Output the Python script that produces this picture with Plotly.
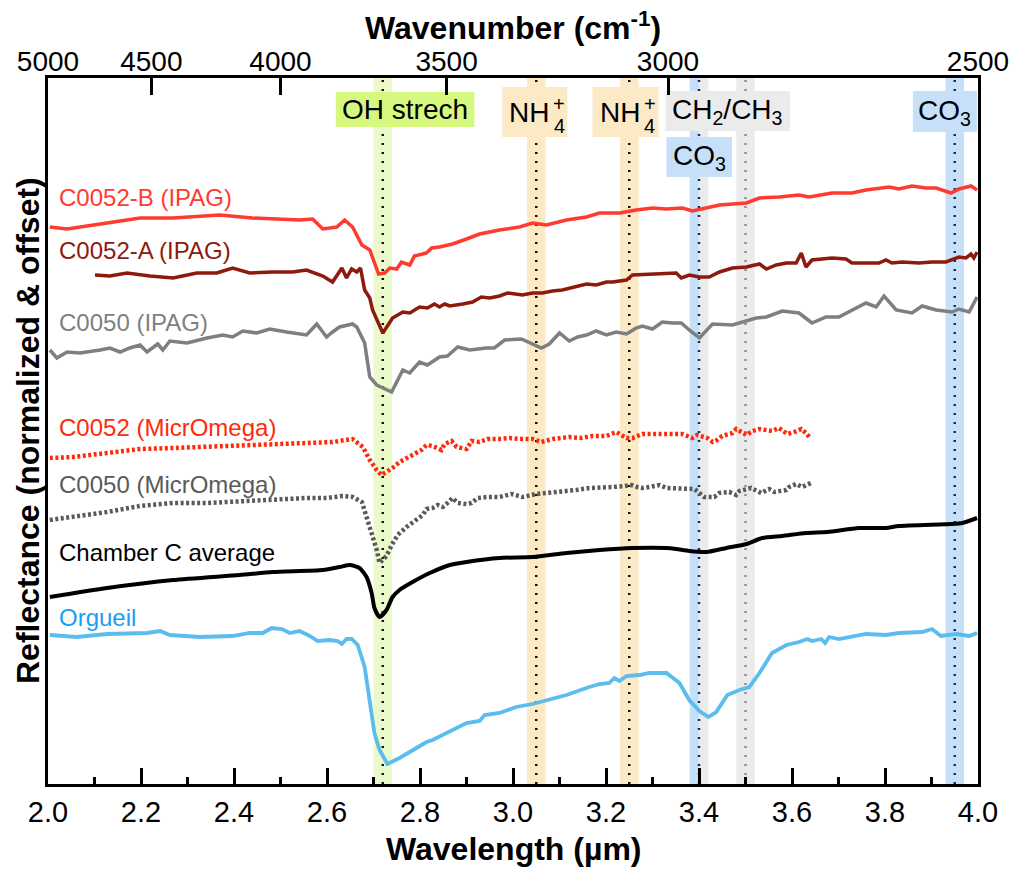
import plotly.graph_objects as go

# ---------------- spectra (wavelength in µm, reflectance normalized & offset) ----------------
wl_c52b = [2.004, 2.041, 2.127, 2.198, 2.269, 2.369, 2.440, 2.498, 2.541, 2.569, 2.591, 2.621, 2.638, 2.655,
           2.675, 2.692, 2.711, 2.724, 2.735, 2.750, 2.760, 2.778, 2.788, 2.814, 2.825, 2.842, 2.870, 2.900,
           2.928, 2.971, 3.014, 3.042, 3.072, 3.115, 3.158, 3.186, 3.229, 3.265, 3.300, 3.330, 3.364, 3.386,
           3.416, 3.444, 3.502, 3.530, 3.572, 3.615, 3.637, 3.686, 3.729, 3.759, 3.809, 3.830, 3.858, 3.888,
           3.910, 3.942, 3.959, 3.985, 3.998]
r_c52b = [5.57, 5.55, 5.61, 5.66, 5.66, 5.69, 5.66, 5.65, 5.64, 5.65, 5.55, 5.57, 5.64, 5.57,
          5.39, 5.34, 5.10, 5.11, 5.16, 5.15, 5.22, 5.19, 5.28, 5.31, 5.36, 5.37, 5.40, 5.45,
          5.50, 5.54, 5.57, 5.61, 5.59, 5.64, 5.67, 5.71, 5.71, 5.74, 5.76, 5.75, 5.76, 5.73,
          5.76, 5.79, 5.81, 5.86, 5.87, 5.89, 5.87, 5.91, 5.91, 5.94, 5.97, 5.95, 5.98, 5.96,
          5.96, 5.91, 5.95, 5.98, 5.94]

wl_c52a = [2.101, 2.133, 2.170, 2.219, 2.269, 2.320, 2.363, 2.397, 2.434, 2.483, 2.526, 2.556, 2.591, 2.612,
           2.632, 2.642, 2.653, 2.664, 2.672, 2.681, 2.692, 2.698, 2.720, 2.741, 2.763, 2.778, 2.799, 2.816,
           2.831, 2.842, 2.853, 2.864, 2.892, 2.913, 2.932, 2.950, 2.971, 2.988, 3.020, 3.042, 3.063, 3.085,
           3.106, 3.136, 3.158, 3.179, 3.201, 3.214, 3.244, 3.257, 3.293, 3.330, 3.351, 3.362, 3.379, 3.401,
           3.422, 3.444, 3.472, 3.502, 3.530, 3.545, 3.566, 3.588, 3.609, 3.620, 3.630, 3.643, 3.686, 3.716,
           3.729, 3.759, 3.787, 3.802, 3.815, 3.837, 3.873, 3.901, 3.931, 3.959, 3.974, 3.985, 3.991, 3.998]
r_c52a = [5.09, 5.08, 5.11, 5.08, 5.06, 5.11, 5.11, 5.16, 5.11, 5.12, 5.12, 5.14, 5.08, 5.02,
          5.16, 5.06, 5.15, 5.12, 5.16, 4.94, 4.86, 4.74, 4.51, 4.66, 4.72, 4.71, 4.77, 4.76,
          4.80, 4.77, 4.80, 4.78, 4.80, 4.82, 4.87, 4.86, 4.88, 4.91, 4.89, 4.91, 4.91, 4.93,
          4.94, 4.97, 5.00, 4.99, 5.02, 5.02, 5.04, 5.09, 5.10, 5.11, 5.11, 5.06, 5.09, 5.07,
          5.07, 5.12, 5.16, 5.17, 5.20, 5.15, 5.19, 5.21, 5.21, 5.31, 5.17, 5.24, 5.26, 5.25,
          5.21, 5.21, 5.21, 5.24, 5.21, 5.22, 5.21, 5.22, 5.22, 5.27, 5.26, 5.30, 5.26, 5.32]

wl_c50 = [2.004, 2.019, 2.041, 2.069, 2.112, 2.133, 2.155, 2.176, 2.198, 2.213, 2.236, 2.247, 2.262, 2.299,
          2.342, 2.376, 2.397, 2.419, 2.449, 2.477, 2.513, 2.556, 2.578, 2.599, 2.612, 2.627, 2.655, 2.664,
          2.681, 2.692, 2.707, 2.739, 2.763, 2.778, 2.799, 2.816, 2.842, 2.859, 2.881, 2.907, 2.943, 2.960,
          2.982, 3.018, 3.061, 3.078, 3.100, 3.121, 3.139, 3.158, 3.179, 3.201, 3.222, 3.244, 3.265, 3.278,
          3.300, 3.321, 3.343, 3.362, 3.379, 3.401, 3.429, 3.472, 3.523, 3.545, 3.579, 3.615, 3.643, 3.673,
          3.701, 3.729, 3.759, 3.781, 3.798, 3.824, 3.858, 3.880, 3.910, 3.944, 3.959, 3.981, 3.998]
r_c50 = [4.34, 4.26, 4.32, 4.31, 4.34, 4.36, 4.32, 4.36, 4.39, 4.32, 4.40, 4.34, 4.43, 4.41,
         4.46, 4.49, 4.47, 4.53, 4.51, 4.55, 4.52, 4.49, 4.60, 4.47, 4.52, 4.57, 4.60, 4.57,
         4.41, 4.07, 3.99, 3.92, 4.14, 4.11, 4.22, 4.19, 4.27, 4.28, 4.37, 4.34, 4.36, 4.36,
         4.44, 4.45, 4.36, 4.40, 4.51, 4.43, 4.47, 4.49, 4.53, 4.49, 4.52, 4.50, 4.56, 4.58,
         4.55, 4.62, 4.61, 4.61, 4.54, 4.46, 4.60, 4.59, 4.66, 4.67, 4.73, 4.71, 4.61, 4.67,
         4.67, 4.74, 4.81, 4.77, 4.88, 4.74, 4.71, 4.78, 4.74, 4.72, 4.75, 4.72, 4.87]

wl_c52_mo = [2.004, 2.054, 2.127, 2.198, 2.269, 2.342, 2.412, 2.483, 2.556, 2.612, 2.655, 2.677, 2.692, 2.707,
             2.717, 2.741, 2.756, 2.784, 2.803, 2.814, 2.827, 2.846, 2.853, 2.868, 2.879, 2.900, 2.911, 2.928,
             2.945, 2.971, 2.992, 3.020, 3.042, 3.061, 3.085, 3.121, 3.147, 3.171, 3.201, 3.222, 3.233, 3.244,
             3.257, 3.278, 3.308, 3.336, 3.364, 3.386, 3.396, 3.418, 3.429, 3.439, 3.450, 3.472, 3.480, 3.502,
             3.515, 3.530, 3.547, 3.557, 3.572, 3.590, 3.605, 3.620, 3.630, 3.639]
r_c52_mo = [3.26, 3.27, 3.31, 3.35, 3.36, 3.37, 3.39, 3.40, 3.41, 3.42, 3.45, 3.37, 3.24, 3.14,
            3.09, 3.16, 3.22, 3.29, 3.34, 3.39, 3.38, 3.34, 3.40, 3.43, 3.37, 3.35, 3.43, 3.42,
            3.45, 3.45, 3.46, 3.45, 3.45, 3.42, 3.45, 3.47, 3.46, 3.48, 3.48, 3.52, 3.49, 3.46,
            3.46, 3.50, 3.50, 3.50, 3.50, 3.46, 3.49, 3.46, 3.42, 3.44, 3.48, 3.51, 3.55, 3.49,
            3.53, 3.55, 3.54, 3.53, 3.56, 3.50, 3.52, 3.55, 3.51, 3.46]

wl_c50_mo = [2.004, 2.054, 2.127, 2.198, 2.269, 2.342, 2.412, 2.483, 2.556, 2.599, 2.634, 2.655, 2.675, 2.685,
             2.696, 2.707, 2.713, 2.728, 2.739, 2.752, 2.771, 2.793, 2.806, 2.814, 2.827, 2.838, 2.849, 2.859,
             2.870, 2.881, 2.900, 2.911, 2.924, 2.945, 2.971, 2.997, 3.020, 3.050, 3.078, 3.111, 3.136, 3.164,
             3.190, 3.214, 3.240, 3.255, 3.267, 3.278, 3.293, 3.315, 3.330, 3.351, 3.373, 3.390, 3.401, 3.411,
             3.433, 3.444, 3.465, 3.480, 3.487, 3.512, 3.534, 3.551, 3.562, 3.588, 3.594, 3.609, 3.622, 3.641]
r_c50_mo = [2.64, 2.67, 2.72, 2.78, 2.81, 2.81, 2.83, 2.84, 2.86, 2.86, 2.88, 2.87, 2.82, 2.67,
            2.51, 2.34, 2.21, 2.28, 2.39, 2.49, 2.57, 2.64, 2.69, 2.75, 2.76, 2.79, 2.77, 2.81,
            2.86, 2.81, 2.80, 2.81, 2.86, 2.87, 2.87, 2.90, 2.87, 2.90, 2.91, 2.93, 2.94, 2.96,
            2.96, 2.97, 2.98, 2.99, 2.97, 2.96, 2.97, 2.99, 2.96, 2.96, 2.96, 2.95, 2.91, 2.87,
            2.87, 2.91, 2.92, 2.89, 2.93, 2.96, 2.91, 2.95, 2.92, 2.94, 2.97, 3.00, 2.97, 3.01]

wl_chamber = [2.004, 2.127, 2.269, 2.412, 2.483, 2.591, 2.627, 2.649, 2.670, 2.685, 2.696, 2.702, 2.713, 2.728,
              2.741, 2.756, 2.784, 2.821, 2.864, 2.900, 2.971, 3.042, 3.115, 3.186, 3.257, 3.330, 3.351, 3.379,
              3.416, 3.459, 3.502, 3.536, 3.579, 3.630, 3.676, 3.744, 3.802, 3.830, 3.944, 3.966, 3.998]
r_chamber = [1.87, 1.96, 2.04, 2.09, 2.12, 2.14, 2.17, 2.19, 2.16, 2.07, 1.91, 1.76, 1.67, 1.74,
             1.87, 1.94, 2.02, 2.11, 2.19, 2.22, 2.26, 2.27, 2.31, 2.34, 2.36, 2.36, 2.35, 2.33,
             2.32, 2.36, 2.40, 2.46, 2.48, 2.51, 2.52, 2.56, 2.56, 2.58, 2.60, 2.61, 2.66]

wl_orgueil = [2.004, 2.062, 2.127, 2.213, 2.241, 2.262, 2.327, 2.397, 2.434, 2.462, 2.481, 2.503, 2.520, 2.541,
              2.563, 2.580, 2.606, 2.623, 2.632, 2.642, 2.653, 2.666, 2.681, 2.692, 2.702, 2.713, 2.730, 2.756,
              2.793, 2.814, 2.827, 2.864, 2.900, 2.928, 2.939, 2.971, 3.007, 3.042, 3.078, 3.115, 3.164, 3.186,
              3.207, 3.218, 3.229, 3.244, 3.272, 3.293, 3.330, 3.358, 3.379, 3.401, 3.420, 3.437, 3.461, 3.487,
              3.508, 3.530, 3.557, 3.588, 3.615, 3.633, 3.643, 3.663, 3.671, 3.680, 3.701, 3.729, 3.759, 3.802,
              3.830, 3.880, 3.901, 3.920, 3.953, 3.981, 3.998]
r_orgueil = [1.49, 1.47, 1.50, 1.51, 1.53, 1.49, 1.47, 1.48, 1.51, 1.51, 1.56, 1.55, 1.51, 1.53,
             1.48, 1.43, 1.44, 1.43, 1.40, 1.45, 1.45, 1.39, 1.17, 0.84, 0.51, 0.34, 0.20, 0.26,
             0.36, 0.42, 0.44, 0.53, 0.61, 0.63, 0.69, 0.71, 0.77, 0.80, 0.84, 0.89, 0.97, 1.00,
             1.01, 1.06, 1.03, 1.08, 1.09, 1.11, 1.11, 1.01, 0.84, 0.73, 0.67, 0.72, 0.89, 0.94,
             0.97, 1.11, 1.31, 1.39, 1.42, 1.45, 1.43, 1.45, 1.41, 1.47, 1.45, 1.47, 1.50, 1.49,
             1.51, 1.52, 1.55, 1.48, 1.50, 1.48, 1.51]

# series labels: text, colour, label height
series_names = ["C0052-B (IPAG)", "C0052-A (IPAG)", "C0050 (IPAG)", "C0052 (MicrOmega)",
                "C0050 (MicrOmega)", "Chamber C average", "Orgueil"]
label_y = [5.87, 5.34, 4.62, 3.57, 3.00, 2.32, 1.67]
label_colors = ["#ff3b30", "#8e1a0e", "#7f7f7f", "#ff2a0a", "#5a5a5a", "#000000", "#1a9ef2"]

# absorption bands: centre wavelengths and their labels
band_centers = [2.72, 3.05, 3.25, 3.40, 3.50, 3.95]
band_labels = ["OH strech", "NH4+", "NH4+", "CO3", "CH2/CH3", "CO3"]

# top axis wavenumbers (cm-1)
wavenumbers = [5000, 4500, 4000, 3500, 3000, 2500]

FONT = "Liberation Sans, Arial, Helvetica, sans-serif"
YTOP = 7.06

fig = go.Figure()

# ---- band shading ----
shapes = []
def vband(x0, x1, color):
    shapes.append(dict(type="rect", xref="x", yref="y", x0=x0, x1=x1, y0=0, y1=YTOP,
                       fillcolor=color, line=dict(width=0), layer="below"))

vband(2.70, 2.74, "#ecfacb")
vband(3.03, 3.07, "#fce9c6")
vband(3.23, 3.27, "#fce9c6")
vband(3.38, 3.42, "#ebebeb")
vband(3.38, 3.40, "#c7e0fa")
vband(3.48, 3.52, "#ebebeb")
vband(3.93, 3.97, "#c7e0fa")

# ---- dotted band centre lines ----
line_colors = ["#111111", "#111111", "#111111", "#1c2f4c", "#8f8f8f", "#1c2f4c"]
for xc, lc in zip(band_centers, line_colors):
    shapes.append(dict(type="line", xref="x", yref="y", x0=xc, x1=xc, y0=0, y1=YTOP,
                       line=dict(color=lc, width=2.5, dash="2px,7px"), layer="below"))

# ---- label boxes ----
def box(x0, x1, y0, y1, color):
    shapes.append(dict(type="rect", xref="x", yref="y", x0=x0, x1=x1, y0=y0, y1=y1,
                       fillcolor=color, line=dict(width=0), layer="below"))

box(2.619, 2.917, 6.57, 6.92, "#d6f87e")
box(2.977, 3.117, 6.47, 6.97, "#fce9c6")
box(3.171, 3.313, 6.47, 6.97, "#fce9c6")
box(3.328, 3.596, 6.53, 6.93, "#ebebeb")
box(3.330, 3.471, 6.07, 6.47, "#c7e0fa")
box(3.860, 3.998, 6.52, 6.93, "#c7e0fa")

# ---- spectra ----
fig.add_trace(go.Scatter(x=wl_c52b, y=r_c52b, mode="lines", line=dict(color="#ff3b30", width=3.5),
                         name=series_names[0]))
fig.add_trace(go.Scatter(x=wl_c52a, y=r_c52a, mode="lines", line=dict(color="#8e1a0e", width=3.5),
                         name=series_names[1]))
fig.add_trace(go.Scatter(x=wl_c50, y=r_c50, mode="lines", line=dict(color="#7f7f7f", width=3.5),
                         name=series_names[2]))
fig.add_trace(go.Scatter(x=wl_c52_mo, y=r_c52_mo, mode="lines",
                         line=dict(color="#ff2a0a", width=4.5, dash="3px,2.5px"), name=series_names[3]))
fig.add_trace(go.Scatter(x=wl_c50_mo, y=r_c50_mo, mode="lines",
                         line=dict(color="#5a5a5a", width=4.5, dash="3px,2.5px"), name=series_names[4]))
fig.add_trace(go.Scatter(x=wl_chamber, y=r_chamber, mode="lines",
                         line=dict(color="#000000", width=4, shape="spline", smoothing=0.6),
                         name=series_names[5]))
fig.add_trace(go.Scatter(x=wl_orgueil, y=r_orgueil, mode="lines", line=dict(color="#5bbcee", width=3.8),
                         name=series_names[6]))
# empty trace that attaches the wavenumber axis on top
fig.add_trace(go.Scatter(x=[], y=[], xaxis="x2", yaxis="y", mode="lines", showlegend=False,
                         hoverinfo="skip"))

annotations = []
for name, yy, col in zip(series_names, label_y, label_colors):
    annotations.append(dict(x=2.019, y=yy, xref="x", yref="y", text=name, showarrow=False,
                            xanchor="left", yanchor="middle", font=dict(size=24, color=col, family=FONT)))

# band label texts
def btxt(x, y, text, size=28):
    annotations.append(dict(x=x, y=y, xref="x", yref="y", text=text, showarrow=False,
                            xanchor="center", yanchor="middle", font=dict(size=size, color="black", family=FONT)))

btxt(2.768, 6.75, band_labels[0])
for xc in (3.047, 3.242):
    annotations.append(dict(x=xc - 0.012, y=6.72, xref="x", yref="y", text="NH", showarrow=False,
                            xanchor="center", yanchor="middle", font=dict(size=28, color="black", family=FONT)))
    annotations.append(dict(x=xc + 0.052, y=6.80, xref="x", yref="y", text="+", showarrow=False,
                            xanchor="center", yanchor="middle", font=dict(size=20, color="black", family=FONT)))
    annotations.append(dict(x=xc + 0.052, y=6.58, xref="x", yref="y", text="4", showarrow=False,
                            xanchor="center", yanchor="middle", font=dict(size=20, color="black", family=FONT)))
btxt(3.462, 6.73, "CH<sub>2</sub>/CH<sub>3</sub>")
btxt(3.400, 6.27, "CO<sub>3</sub>")
btxt(3.929, 6.72, "CO<sub>3</sub>")

# axis titles
annotations.append(dict(x=0.5, y=-0.092, xref="paper", yref="paper", text="<b>Wavelength (µm)</b>",
                        showarrow=False, xanchor="center", yanchor="middle",
                        font=dict(size=32, color="black", family=FONT)))
annotations.append(dict(x=0.5, y=1.073, xref="paper", yref="paper", text="<b>Wavenumber (cm<sup>-1</sup>)</b>",
                        showarrow=False, xanchor="center", yanchor="middle",
                        font=dict(size=32, color="black", family=FONT)))
annotations.append(dict(x=-0.0215, y=0.5, xref="paper", yref="paper",
                        text="<b>Reflectance (normalized & offset)</b>", textangle=-90,
                        showarrow=False, xanchor="center", yanchor="middle",
                        font=dict(size=32, color="black", family=FONT)))

fig.update_layout(
    width=1018, height=869,
    margin=dict(l=48, r=40, t=78, b=85, autoexpand=False),
    paper_bgcolor="white", plot_bgcolor="white",
    showlegend=False,
    shapes=shapes,
    annotations=annotations,
    font=dict(family=FONT, color="black"),
    xaxis=dict(range=[2.0, 4.0], tick0=2.0, dtick=0.2, tickformat=".1f", automargin=False,
               ticks="inside", ticklen=16, tickwidth=2.5, tickcolor="black",
               minor=dict(dtick=0.1, ticks="inside", ticklen=7, tickwidth=2.5, tickcolor="black"),
               showline=True, linecolor="black", linewidth=3, mirror=True,
               showgrid=False, zeroline=False, ticklabelstandoff=0,
               tickfont=dict(size=29, color="black", family=FONT)),
    xaxis2=dict(range=[2.0, 4.0], overlaying="x", side="top", anchor="y", automargin=False,
                tickmode="array", tickvals=[10000.0 / w for w in wavenumbers],
                ticktext=[str(w) for w in wavenumbers],
                ticks="inside", ticklen=17, tickwidth=2.5, tickcolor="black",
                showline=False, showgrid=False, zeroline=False, ticklabelstandoff=0,
                tickfont=dict(size=28, color="black", family=FONT)),
    yaxis=dict(range=[0, YTOP], showticklabels=False, ticks="", showgrid=False, zeroline=False,
               automargin=False, showline=True, linecolor="black", linewidth=3, mirror=True),
)

fig.write_html("out.html")
